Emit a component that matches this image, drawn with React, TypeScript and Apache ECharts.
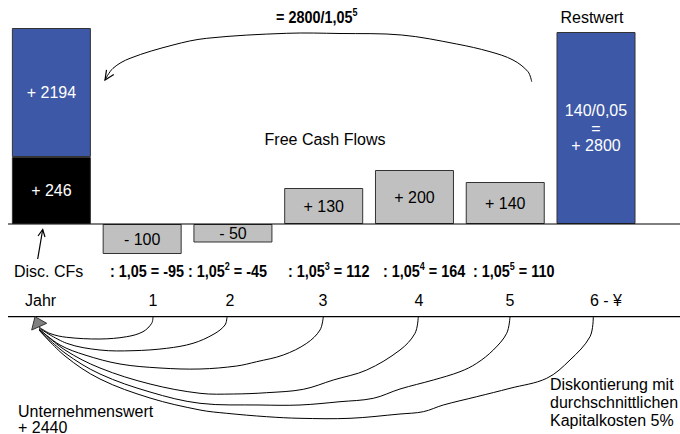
import React, { useEffect, useRef } from "react";
import * as echarts from "echarts";

// Bars (schematic heights as drawn in the picture; labels carry the values)
const categories = ["Heute", "Jahr 1", "Jahr 2", "Jahr 3", "Jahr 4", "Jahr 5", "Restwert"];
const barKind = ["disc", "flow", "flow", "flow", "flow", "flow", "rest"];
const baseHeights = [67, -30, -18.5, 36, 54, 42, 192];
const baseLabels = ["+ 246", "- 100", "- 50", "+ 130", "+ 200", "+ 140", "140/0,05\n=\n+ 2800"];
const topHeights: (number | string)[] = [129, "-", "-", "-", "-", "-", "-"];
const topLabels = ["+ 2194", "", "", "", "", "", ""];

// Discounting row
const discountExponents = [1, 2, 3, 4, 5];
const discountedValues = [-95, -45, 112, 164, 110];
const yearLabels = ["1", "2", "3", "4", "5", "6 - ¥"];

const SANS = "'Liberation Sans', Arial, sans-serif";

export default function App() {
  const ref = useRef<HTMLDivElement>(null);
  useEffect(() => {
    if (!ref.current) return;
    const chart = echarts.init(ref.current, null, { renderer: "svg" });

    const colorOf = (k: string) => (k === "disc" ? "#000000" : k === "rest" ? "#3d58a6" : "#c0c0c0");
    const textOf = (k: string) => (k === "flow" ? "#000000" : "#ffffff");

    const baseData = baseHeights.map((v, i) => ({
      value: v,
      itemStyle: { color: colorOf(barKind[i]), borderColor: "#333333", borderWidth: 1 },
      label: { formatter: baseLabels[i], color: textOf(barKind[i]) },
    }));
    const topData = topHeights.map((v) => ({
      value: v,
      itemStyle: { color: "#3d58a6", borderColor: "#333333", borderWidth: 1 },
    }));

    const boldRich = {
      b: { font: `bold 16px ${SANS}`, fill: "#000", lineHeight: 19 },
      s: { font: `bold 10px ${SANS}`, fill: "#000", lineHeight: 10, verticalAlign: "top" },
    };

    const discLefts = [110, 188, 288, 383, 473];
    const discTexts = discountExponents.map((e, i) => ({
      type: "text",
      x: discLefts[i],
      y: 271,
      scaleX: 0.9,
      style: {
        text:
          e === 1
            ? `{b|: 1,05 = ${discountedValues[i]}}`
            : `{b|: 1,05}{s|${e}}{b| = ${discountedValues[i]}}`,
        align: "left",
        verticalAlign: "middle",
        rich: boldRich,
      },
    }));

    const yearX = [153, 230, 323, 419, 510, 606];
    const yearTexts = yearLabels.map((t, i) => ({
      type: "text",
      x: yearX[i],
      y: 300,
      style: { text: t, font: `16px ${SANS}`, fill: "#000", align: "center", verticalAlign: "middle" },
    }));

    const line = (pts: number[][]) => ({
      type: "polyline",
      shape: { points: pts, smooth: 0.35 },
      style: { stroke: "#000", fill: null, lineWidth: 1 },
      z: 10,
    });

    const curves = [
      [[153, 316.7], [151.7, 323.3], [143, 331.7], [126.7, 336.7], [100, 339], [66.7, 337.3], [50, 333.5], [39, 327]],
      [[227, 316.7], [225, 325], [214, 334], [193, 343.3], [166.7, 348.3], [133, 350.7], [100, 350], [66.7, 343.3], [39, 328]],
      [[323.3, 316.7], [320, 330], [306.7, 343.3], [283.3, 355], [256.7, 361.7], [236.7, 366], [200, 369], [160, 368], [120, 364], [85, 355], [60, 345], [39, 329]],
      [[418.3, 316.7], [415, 333.3], [400, 350], [366.7, 370], [333.3, 380], [303.3, 389.3], [266.7, 392.7], [233.3, 394], [200, 393.3], [150, 384], [100, 368], [65, 350], [39, 329]],
      [[510, 316.7], [506.7, 333.3], [493.3, 350], [476.7, 363.3], [460, 371.7], [433.3, 380], [400, 389], [373.3, 398.3], [340, 401.7], [300, 405], [260, 405], [200, 403.3], [150, 392], [100, 374], [65, 353], [39, 330]],
      [[593.3, 316.7], [590, 336.7], [570, 360], [546.7, 378.3], [510, 388.3], [476.7, 396.7], [443.3, 405], [423.3, 411.7], [400, 414], [350, 418.3], [300, 418.3], [266.7, 416.7], [226.7, 413.3], [200, 410], [150, 398], [100, 379], [65, 356], [39, 330]],
    ];

    const plain = (text: string, x: number, y: number, align = "left") => ({
      type: "text",
      x,
      y,
      style: { text, font: `16px ${SANS}`, fill: "#000", align, verticalAlign: "middle" },
    });

    chart.setOption({
      animation: false,
      grid: { left: 6, right: 38.6, top: 24, bottom: 150, containLabel: false },
      xAxis: { type: "category", data: categories, show: false },
      yAxis: { type: "value", min: -60, max: 200, show: false },
      series: [
        {
          type: "bar",
          stack: "a",
          barWidth: 79,
          data: baseData,
          label: { show: true, position: "inside", fontFamily: SANS, fontSize: 16, lineHeight: 17.5 },
        },
        {
          type: "bar",
          stack: "a",
          barWidth: 79,
          data: topData,
          label: {
            show: true,
            position: "inside",
            fontFamily: SANS,
            fontSize: 16,
            color: "#fff",
            formatter: (p: any) => topLabels[p.dataIndex],
          },
        },
      ],
      graphic: [
        { type: "line", shape: { x1: 8, y1: 224, x2: 680, y2: 224 }, style: { stroke: "#000", lineWidth: 1.2 }, z: 20 },
        { type: "line", shape: { x1: 8, y1: 316.7, x2: 680, y2: 316.7 }, style: { stroke: "#000", lineWidth: 1.2 }, z: 20 },
        {
          type: "text",
          x: 276,
          y: 17,
          scaleX: 0.9,
          style: { text: "{b|= 2800/1,05}{s|5}", align: "left", verticalAlign: "middle", rich: boldRich },
        },
        plain("Restwert", 592, 17, "center"),
        plain("Free Cash Flows", 325, 139, "center"),
        plain("Disc. CFs", 14, 271.5),
        plain("Jahr", 25, 300),
        plain("Unternehmenswert", 18, 411.5),
        {
          type: "text",
          x: 18,
          y: 427,
          style: { text: "+ 2440", font: `16px ${SANS}`, lineHeight: 14, fill: "#000", align: "left", verticalAlign: "middle" },
        },
        {
          type: "text",
          x: 550,
          y: 375,
          style: {
            text: "Diskontierung mit\ndurchschnittlichen\nKapitalkosten 5%",
            font: `16px ${SANS}`,
            lineHeight: 18,
            fill: "#000",
            align: "left",
            verticalAlign: "top",
          },
        },
        ...discTexts,
        ...yearTexts,
        { type: "line", shape: { x1: 37.7, y1: 259, x2: 42.7, y2: 229.5 }, style: { stroke: "#000", lineWidth: 1.2 } },
        { type: "polyline", shape: { points: [[38, 236], [42.7, 229.5], [45, 237]] }, style: { stroke: "#000", fill: null, lineWidth: 1.2 } },
        line([[531.7, 81.7], [528, 71.7], [513, 60], [490, 51.7], [456.7, 44], [401.7, 35], [340, 33.5], [286.7, 33.3], [206.7, 38.3], [173, 45], [130, 58.3], [113, 68.3], [105, 80]]),
        { type: "polyline", shape: { points: [[106.5, 69.8], [105, 80], [113.8, 74.6]] }, style: { stroke: "#000", fill: null, lineWidth: 1.2 } },
        ...curves.map((c) => line(c)),
        {
          type: "polygon",
          shape: { points: [[31.7, 330], [35, 316.7], [46.7, 323.3]] },
          style: { fill: "#808080", stroke: "#333", lineWidth: 1 },
          z: 30,
        },
      ],
    });
    return () => chart.dispose();
  }, []);
  return <div ref={ref} style={{ width: 680, height: 434, position: "absolute", left: 0, top: 0 }} />;
}
